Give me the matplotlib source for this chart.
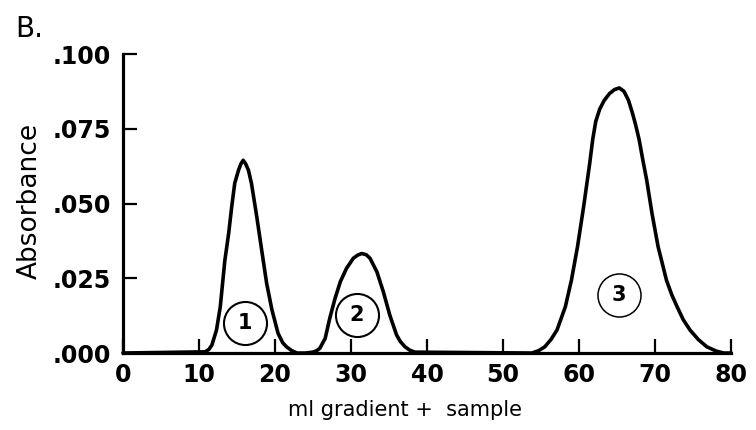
import matplotlib
matplotlib.use("Agg")
import matplotlib.pyplot as plt

# Elution profile (ml gradient + sample vs absorbance)
ml = [0, 10.8, 11.3, 11.7, 12.3, 12.8, 13.1, 13.4, 13.9, 14.3, 14.7, 15.2, 15.5, 15.8,
      16.1, 16.5, 16.9, 17.6, 18.25, 18.9, 19.6, 20.4, 21.0, 21.5, 22.2, 22.9, 24.0,
      25.0, 25.5, 25.9, 26.6, 27.2, 27.9, 28.6, 29.4, 30.3, 30.9, 31.4,
      32.0, 32.5, 33.4, 34.25, 35.1, 36.0, 36.5, 37.1, 37.7, 38.4,
      53.8, 54.7, 55.5, 56.3, 57.1, 58.2, 59.0, 59.8, 60.6, 61.4, 61.8, 62.2, 62.7, 63.3, 64.0, 64.7, 65.3,
      65.9, 66.5, 67.0, 67.4, 67.9, 68.4, 68.9, 69.6, 70.4, 71.0, 71.5, 72.2, 72.9, 73.7, 74.6, 75.7,
      76.8, 78.0, 79.0, 80.0]
absorb = [0, 0.0004, 0.0012, 0.0027, 0.0077, 0.0155, 0.0233, 0.0310, 0.0400, 0.0489, 0.0568, 0.0612, 0.0632, 0.0645,
          0.0635, 0.0612, 0.0568, 0.0456, 0.0344, 0.0233, 0.0144, 0.0066, 0.0035, 0.0021, 0.0008, 0.0, 0.0,
          0.0003, 0.0008, 0.0016, 0.0049, 0.0116, 0.0183, 0.0239, 0.0283, 0.0317, 0.0328, 0.0333,
          0.0329, 0.0317, 0.0272, 0.0205, 0.0127, 0.0060, 0.0038, 0.0021, 0.0010, 0.0003,
          0.0, 0.0008, 0.0021, 0.0045, 0.0077, 0.0155, 0.0244, 0.0356, 0.0489, 0.0634, 0.0715, 0.0775, 0.0815, 0.0845, 0.0868, 0.0882, 0.0887,
          0.0876, 0.0846, 0.0805, 0.0768, 0.0715, 0.0645, 0.0579, 0.0467, 0.0356, 0.0295, 0.0244, 0.0195, 0.0155, 0.0112, 0.0077, 0.0045,
          0.0021, 0.0007, 0.0, 0.0]

peak_labels = ["1", "2", "3"]
peak_label_x = [16.0, 30.8, 65.2]
peak_label_y = [0.0100, 0.0127, 0.0194]

x_ticks = [0, 10, 20, 30, 40, 50, 60, 70, 80]
y_ticks = [0.0, 0.025, 0.050, 0.075, 0.100]
y_tick_labels = [".000", ".025", ".050", ".075", ".100"]

fig = plt.figure(figsize=(7.56, 4.30), dpi=100)
ax = fig.add_axes([0.1627, 0.179, 0.8043, 0.695])

ax.plot(ml, absorb, color="black", lw=2.6, solid_joinstyle="round",
        solid_capstyle="round", clip_on=False)

for t, xx, yy in zip(peak_labels, peak_label_x, peak_label_y):
    ax.plot([xx], [yy], marker="o", ms=31, mfc="none", mec="black",
            mew=1.5 if t != "3" else 1.1, clip_on=False)
    ax.text(xx, yy, t, ha="center", va="center", fontsize=15, fontweight="bold")

ax.set_xlim(0, 80)
ax.set_ylim(0, 0.1)
ax.set_xticks(x_ticks)
ax.set_xticklabels([str(v) for v in x_ticks])
ax.set_yticks(y_ticks)
ax.set_yticklabels(y_tick_labels)

for s in ["top", "right"]:
    ax.spines[s].set_visible(False)
for s in ["left", "bottom"]:
    ax.spines[s].set_linewidth(2.3)
    ax.spines[s].set_capstyle("projecting")

ax.tick_params(axis="both", direction="in", length=10, width=1.6, labelsize=17)
ax.tick_params(axis="x", pad=7)
ax.tick_params(axis="y", pad=9)
for lab in ax.get_xticklabels() + ax.get_yticklabels():
    lab.set_fontweight("bold")

ax.set_ylabel("Absorbance", fontsize=19, va="center")
ax.yaxis.set_label_coords(-0.153, 0.51)
ax.set_xlabel("ml gradient +  sample", fontsize=15, va="center")
ax.xaxis.set_label_coords(0.464, -0.19)

fig.text(15 / 756, 1 - 37 / 430, "B.", fontsize=20, ha="left", va="baseline")

fig.savefig("out.png", dpi=100)
